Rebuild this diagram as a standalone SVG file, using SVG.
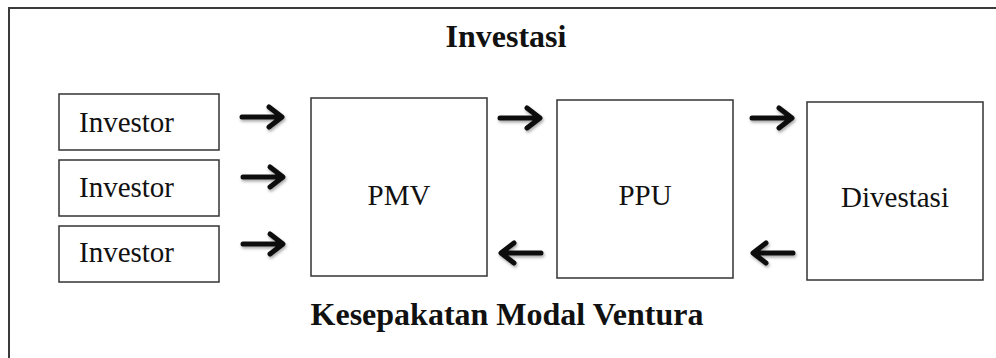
<svg xmlns="http://www.w3.org/2000/svg" width="996" height="358" viewBox="0 0 996 358">
  <defs>
    <style>
      .frame { fill: none; stroke: #3a3a3a; stroke-width: 2; }
      .box { fill: #ffffff; stroke: #333333; stroke-width: 1.5; }
      .label { font-family: "Liberation Serif", "Times New Roman", serif; font-size: 29px; fill: #111111; }
      .title { font-family: "Liberation Serif", "Times New Roman", serif; font-size: 32px; font-weight: bold; fill: #111111; text-anchor: middle; }
      .mid { text-anchor: middle; }
      .arrow { fill: none; stroke: #111111; stroke-width: 5; stroke-linecap: round; stroke-linejoin: round; }
    </style>
    <filter id="soft-shadow" x="-30%" y="-50%" width="160%" height="200%">
      <feDropShadow dx="1" dy="2" stdDeviation="1.5" flood-color="#000000" flood-opacity="0.35"/>
    </filter>
    <!-- bold chevron arrow pointing right, tip at origin -->
    <g id="arrow-right">
      <path class="arrow" d="M -40 0 L -1 0 M -13 -10 L 0 0 L -13 10"/>
    </g>
  </defs>

  <!-- outer frame running past the right and bottom edges -->
  <rect class="frame" x="9" y="8" width="1000" height="400"/>

  <text class="title" x="506" y="47">Investasi</text>
  <text class="title" x="507" y="325">Kesepakatan Modal Ventura</text>

  <g id="investor-1">
    <rect class="box" x="59" y="94" width="160" height="56"/>
    <text class="label" x="79" y="132">Investor</text>
  </g>
  <g id="investor-2">
    <rect class="box" x="59" y="160" width="160" height="56"/>
    <text class="label" x="79" y="197">Investor</text>
  </g>
  <g id="investor-3">
    <rect class="box" x="59" y="226" width="160" height="56"/>
    <text class="label" x="79" y="262">Investor</text>
  </g>

  <g id="pmv">
    <rect class="box" x="311" y="98" width="176" height="178"/>
    <text class="label mid" x="399" y="205">PMV</text>
  </g>
  <g id="ppu">
    <rect class="box" x="557" y="100" width="176" height="178"/>
    <text class="label mid" x="645" y="205">PPU</text>
  </g>
  <g id="divestasi">
    <rect class="box" x="807" y="102" width="176" height="178"/>
    <text class="label mid" x="895" y="207">Divestasi</text>
  </g>

  <g id="connectors" filter="url(#soft-shadow)">
    <use href="#arrow-right" transform="translate(282 117)"/>
    <use href="#arrow-right" transform="translate(283 177)"/>
    <use href="#arrow-right" transform="translate(283 244)"/>
    <use href="#arrow-right" transform="translate(540 118)"/>
    <use href="#arrow-right" transform="translate(792 118)"/>
    <use href="#arrow-right" transform="translate(501 253) scale(-1 1)"/>
    <use href="#arrow-right" transform="translate(753 253) scale(-1 1)"/>
  </g>
</svg>
